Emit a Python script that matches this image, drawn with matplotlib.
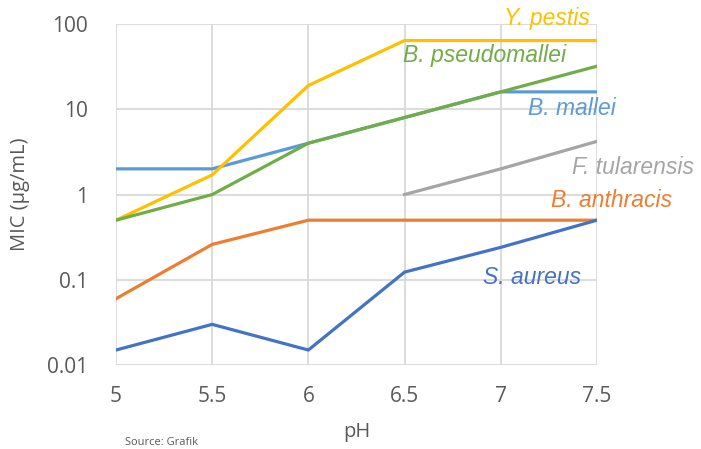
import matplotlib
matplotlib.use("Agg")
import matplotlib.pyplot as plt
from matplotlib.ticker import FixedLocator, FixedFormatter, NullLocator

ph = [5, 5.5, 6, 6.5, 7, 7.5]
y_pestis = [0.5, 1.7, 19, 64, 64, 64]
b_pseudomallei = [0.5, 1.0, 4, 8, 16, 32]
b_mallei = [2, 2, 4, 8, 16, 16]
f_tularensis_ph = [6.5, 7, 7.5]
f_tularensis = [1, 2, 4.2]
b_anthracis = [0.06, 0.26, 0.5, 0.5, 0.5, 0.5]
s_aureus = [0.015, 0.03, 0.015, 0.123, 0.24, 0.5]

yticks = [0.01, 0.1, 1, 10, 100]
ytick_labels = ["0.01", "0.1", "1", "10", "100"]
xtick_labels = ["5", "5.5", "6", "6.5", "7", "7.5"]

c_yellow = "#FFC000"
c_green = "#70AD47"
c_lblue = "#5B9BD5"
c_gray = "#A5A5A5"
c_orange = "#ED7D31"
c_blue = "#4472C4"
c_text = "#595959"

fig = plt.figure(figsize=(7.01, 4.49), dpi=100)
ax = fig.add_axes([0.1655, 0.187, 0.686, 0.7595])

lw = 2.3
ax.plot(ph, b_anthracis, color=c_orange, lw=lw, zorder=3)
ax.plot(ph, s_aureus, color=c_blue, lw=lw, zorder=3)
ax.plot(f_tularensis_ph, f_tularensis, color=c_gray, lw=lw, zorder=3)
ax.plot(ph, b_mallei, color=c_lblue, lw=lw, zorder=3)
ax.plot(ph, y_pestis, color=c_yellow, lw=lw, zorder=4)
ax.plot(ph, b_pseudomallei, color=c_green, lw=lw, zorder=5)

ax.set_yscale("log")
ax.set_ylim(0.01, 100)
ax.set_xlim(5, 7.5)
ax.yaxis.set_major_locator(FixedLocator(yticks))
ax.yaxis.set_major_formatter(FixedFormatter(ytick_labels))
ax.yaxis.set_minor_locator(NullLocator())
ax.set_xticks(ph)
ax.set_xticklabels(xtick_labels)

ax.grid(True, color="#D9D9D9", lw=1.3, zorder=0)
for s in ax.spines.values():
    s.set_visible(False)
ax.tick_params(length=0, labelsize=15, labelcolor=c_text)
ax.tick_params(axis="x", pad=15)
ax.tick_params(axis="y", pad=20)
for lab in ax.get_xticklabels() + ax.get_yticklabels():
    lab.set_family("Open Sans")

ax.set_ylabel("MIC (µg/mL)", fontsize=14.5, color=c_text, family="Open Sans", labelpad=12)
ax.set_xlabel("pH", fontsize=14.5, color=c_text, family="Open Sans", labelpad=11)

lab_kw = dict(fontsize=16.5, style="italic", family="Liberation Sans", va="center", clip_on=False)
ax.text(7.24, 117, "Y. pestis", color=c_yellow, ha="center", **lab_kw)
ax.text(6.49, 43, "B. pseudomallei", color=c_green, ha="left", **lab_kw)
ax.text(7.14, 10.3, "B. mallei", color=c_lblue, ha="left", **lab_kw)
ax.text(7.37, 2.1, "F. tularensis", color=c_gray, ha="left", **lab_kw)
ax.text(7.26, 0.86, "B. anthracis", color=c_orange, ha="left", **lab_kw)
ax.text(6.91, 0.107, "S. aureus", color=c_blue, ha="left", **lab_kw)

fig.text(0.178, 0.002, "Source: Grafik", fontsize=8, color=c_text, family="Open Sans", va="bottom")

fig.savefig("out.png", dpi=100)
